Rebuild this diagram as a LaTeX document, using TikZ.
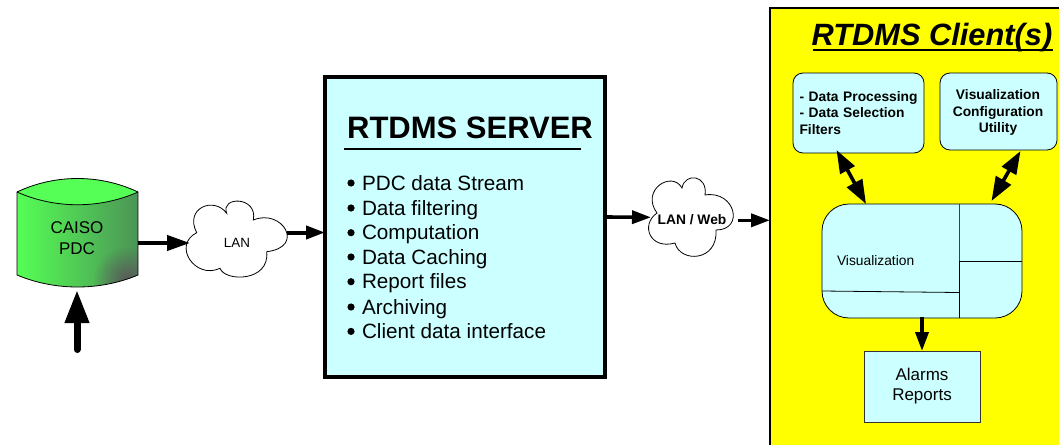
\documentclass[tikz,border=0pt]{standalone}
\usepackage{fontspec}
\setmainfont{Liberation Sans}
\usetikzlibrary{arrows.meta,fadings}
\definecolor{boxcyan}{RGB}{204,255,255}
\definecolor{cylgreen}{RGB}{85,255,85}
\definecolor{cyldark}{RGB}{76,148,86}
\definecolor{panelyellow}{RGB}{255,255,0}
\tikzfading[name=cornerfade, inner color=transparent!0, outer color=transparent!100]
\newcommand{\fs}[2]{\fontsize{#1}{#2}\selectfont}
\tikzset{
  x=1pt,y=-1pt,
  panel/.style={draw=black,fill=boxcyan,line width=0.8pt,rounded corners=10pt,inner sep=0pt,outer sep=0pt},
  flow/.style n args={3}{line width=#1,-{Triangle[length=#2,width=#3]}},
  both/.style={line width=3.6pt,{Triangle[length=23pt,width=16pt]}-{Triangle[length=24pt,width=17pt]}},
  cloudline/.style={draw=black,fill=white,line width=0.8pt},
  label/.style={inner sep=0pt,outer sep=0pt,align=center},
  listitem/.style={inner sep=0pt,outer sep=0pt,anchor=base west,font=\fs{20.7}{24}},
  boxtext/.style={inner sep=0pt,outer sep=0pt,align=left,font=\fs{13.8}{16.5}\bfseries},
}
\begin{document}
\begin{tikzpicture}
\clip (0,0) rectangle (1059,444);
\fill[white] (0,0) rectangle (1059,444);
% yellow client panel
\draw[fill=panelyellow,line width=2pt] (770,8) rectangle (1075,460);
\node[label,anchor=base,font=\fs{30.8}{32}\bfseries\itshape] (clienttitle) at (932,45.5) {RTDMS Client(s)};
\draw[line width=1.6pt] (813,50) -- (1053,50);
% cylinder
\begin{scope}
\clip (17,192) .. controls (55,174) and (100,174) .. (138,192) -- (138,275) .. controls (100,291) and (55,291) .. (17,275) -- cycle;
\shade[left color=cylgreen,middle color=cylgreen!45!cyldark,right color=cyldark] (17,170) rectangle (138,295);
\fill[black!65,path fading=cornerfade] (127,280) circle[radius=34];
\fill[cylgreen] (17,192) .. controls (55,174) and (100,174) .. (138,192) .. controls (100,209) and (55,209) .. (17,192) -- cycle;
\end{scope}
\draw[line width=0.8pt] (17,192) .. controls (55,174) and (100,174) .. (138,192) -- (138,275) .. controls (100,291) and (55,291) .. (17,275) -- cycle;
\draw[line width=0.8pt] (17,192) .. controls (55,209) and (100,209) .. (138,192);
\node[label,minimum width=121pt,font=\fs{17}{21}] (caiso) at (77,238) {CAISO\\PDC};
\coordinate (feed) at (77,349.5);
\coordinate (feedtip) at (77,290);
% LAN cloud
\draw[cloudline] (196.7,232.7) .. controls (184,208) and (214,196) .. (226.7,213.3)
  .. controls (220,196) and (258,196) .. (253.3,220)
  .. controls (282,208) and (306,247) .. (266.7,251.7)
  .. controls (270,282) and (225,282) .. (220,268.3)
  .. controls (195,280) and (172,245) .. cycle;
\node[label,minimum width=100pt,font=\fs{13.4}{15}] (lan) at (237,243) {LAN};
% server
\node[draw=black,fill=boxcyan,line width=3.6pt,inner sep=0pt,outer sep=0pt,minimum width=280pt,minimum height=300pt] (srv) at (465,227) {};
\node[label,anchor=base,font=\fs{31}{32}\bfseries] (srvtitle) at (470,138) {RTDMS SERVER};
\draw[line width=1.6pt] (344,149) -- (581,149);
\foreach \n/\by/\t in {a/190/PDC data Stream,b/215/Data filtering,c/239.7/Computation,d/264/Data Caching,e/288.7/Report files,f/314/Archiving,g/338.4/Client data interface}{
  \fill (351,\by-7) circle[radius=3.6];
  \node[listitem] (item\n) at (362,\by) {\t};
}
% LAN / Web cloud
\draw[cloudline] (657,213) .. controls (640,190) and (672,170) .. (682,188)
  .. controls (685,172) and (708,175) .. (705,195)
  .. controls (735,190) and (745,230) .. (716,230)
  .. controls (718,262) and (680,263) .. (675,243)
  .. controls (650,250) and (640,225) .. cycle;
\node[label,minimum width=82pt,font=\fs{13.8}{15}\bfseries] (web) at (692,220) {LAN / Web};
% client boxes
\node[panel,minimum width=131pt,minimum height=80pt] (proc) at (858.5,113) {};
\node[boxtext,anchor=base west,text width=124pt] (proctext) at (799.5,101) {- Data Processing\\- Data Selection\\Filters};
\node[panel,minimum width=117pt,minimum height=77pt] (conf) at (998.5,111.5) {};
\node[boxtext,anchor=center,align=center] (conftext) at (998,112.5) {Visualization\\Configuration\\Utility};
\node[panel,rounded corners=27pt,minimum width=200pt,minimum height=114pt] (vis) at (922,261) {};
\draw[line width=0.8pt,black!75] (959,204) -- (959,261);
\draw[line width=0.8pt] (959,261) -- (959,318);
\draw[line width=0.8pt] (959,261) -- (1022,261);
\draw[line width=0.8pt] (822,291) -- (959,292.5);
\node[label,anchor=base west,font=\fs{13.8}{15}] (vistext) at (837,265) {Visualization};
\node[draw=black!80,fill=boxcyan,line width=0.8pt,inner sep=0pt,outer sep=0pt,minimum width=116pt,minimum height=71pt,align=center,font=\fs{17}{20}] (alarm) at (922,386.5) {\raisebox{-1pt}{Alarms}\\\raisebox{-1pt}{Reports}};
% connectors
\draw[flow={7pt}{33pt}{23pt},line cap=round] (feed) -- (feedtip);
\draw[flow={4pt}{23pt}{15pt},shorten >=-3pt] (caiso.east |- lan.west) -- (lan.west);
\draw[flow={4pt}{19pt}{13pt}] ([yshift=10.5pt]lan.east) -- ([yshift=-5.5pt]srv.west);
\draw[flow={3.6pt}{19pt}{13pt}] ([yshift=10pt]srv.east) -- ([yshift=2.7pt]web.west);
\coordinate (clientedge) at (770,220.3);
\draw[flow={3.6pt}{19pt}{13pt},shorten <=5pt] (web.east |- clientedge) -- (clientedge);
\draw[both] ([xshift=-22pt,yshift=3pt]proc.south) -- ([xshift=-56pt]vis.north);
\draw[both] ([xshift=22pt,yshift=-1pt]conf.south) -- ([xshift=69.5pt,yshift=3pt]vis.north);
\draw[flow={3.6pt}{19pt}{13pt}] ([yshift=1pt]vis.south) -- (alarm.north);
\end{tikzpicture}
\end{document}
